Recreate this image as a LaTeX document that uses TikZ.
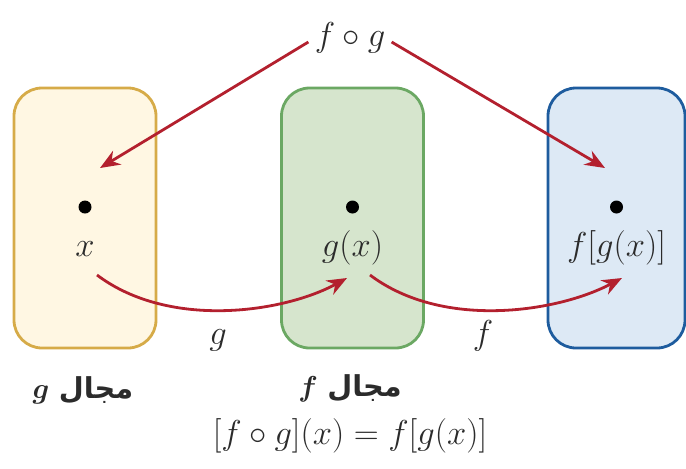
\documentclass[tikz,border=0pt]{standalone}
\usepackage{fontspec}
\usepackage{xcolor}
\usepackage{tikz}
\usetikzlibrary{positioning, arrows.meta}
\TeXXeTstate=1
\newfontfamily\arabicfont[Script=Arabic]{DejaVu Sans}

\definecolor{yelfill}{HTML}{FFF7E3}
\definecolor{yeldraw}{HTML}{D6AB48}
\definecolor{grnfill}{HTML}{D6E5CD}
\definecolor{grndraw}{HTML}{6BA863}
\definecolor{blufill}{HTML}{DDE9F5}
\definecolor{bludraw}{HTML}{1E5C9E}
\definecolor{maproute}{HTML}{B3202E}
\definecolor{ink}{HTML}{2B2B2B}

\begin{document}
\begin{tikzpicture}[x=0.5pt,y=-0.5pt,on grid,
    dom/.style={draw,rounded corners=14pt,minimum width=71pt,minimum height=130pt,line width=1.4pt},
    pt/.style={circle,fill=black,inner sep=0pt,minimum size=6.5pt},
    lbl/.style={font=\LARGE,text=ink,text height=12pt,text depth=4pt,inner sep=0pt},
    domname/.style={font=\Large\boldmath,text=ink},
    map/.style={-{Stealth[length=10pt,width=8pt]},draw=maproute,line width=1.4pt}]
       \useasboundingbox (0,0) rectangle (686,468);

       \node[dom,fill=yelfill,draw=yeldraw] (domg) at (85,218) {};
       \node[dom,fill=grnfill,draw=grndraw] (domf) [right=133.75pt of domg] {};
       \node[dom,fill=blufill,draw=bludraw,minimum width=68.5pt] (domfg) [right=132pt of domf] {};

       \node[pt] (px) [above=5.5pt of domg] {};
       \node[pt] (pgx) [above=5.5pt of domf] {};
       \node[pt] (pfgx) [above=5.5pt of domfg] {};
       \node[lbl] (x) [below=20.5pt of px] {$x$};
       \node[lbl] (gx) [below=20.5pt of pgx] {$g(x)$};
       \node[lbl] (fgx) [below=20.5pt of pfgx] {$f[g(x)]$};

       \node[lbl,inner sep=3pt] (fog) at (350,38) {$f\circ g$};
       \coordinate (hitx) at (100,168);
       \coordinate (hitfg) at (605,168);
       \draw[map] ([yshift=-2pt]fog.west) -- (hitx);
       \draw[map] ([yshift=-2pt]fog.east) -- (hitfg);

       \coordinate (gout) at (97,275);
       \coordinate (gin) at (347,278);
       \coordinate (fout) at (370,275);
       \coordinate (fin) at (622,278);
       \draw[map] (gout) .. controls +(73,55) and +(-62,34) .. (gin);
       \draw[map] (fout) .. controls +(73,55) and +(-64,34) .. (fin);
       \node[lbl] (g) at (218,336) {$g$};
       \node[lbl] (f) at (483,336) {$f$};

       \node[domname] (capg) at (83,390) {$g$\ \beginR{\arabicfont\bfseries مجال}\endR};
       \node[domname] (capf) at (350,388) {$f$\ \beginR{\arabicfont\bfseries مجال}\endR};
       \node[text=ink,font=\LARGE] (comp) at (350,436) {$[f\circ g](x)=f[g(x)]$};
    \end{tikzpicture}
\end{document}
